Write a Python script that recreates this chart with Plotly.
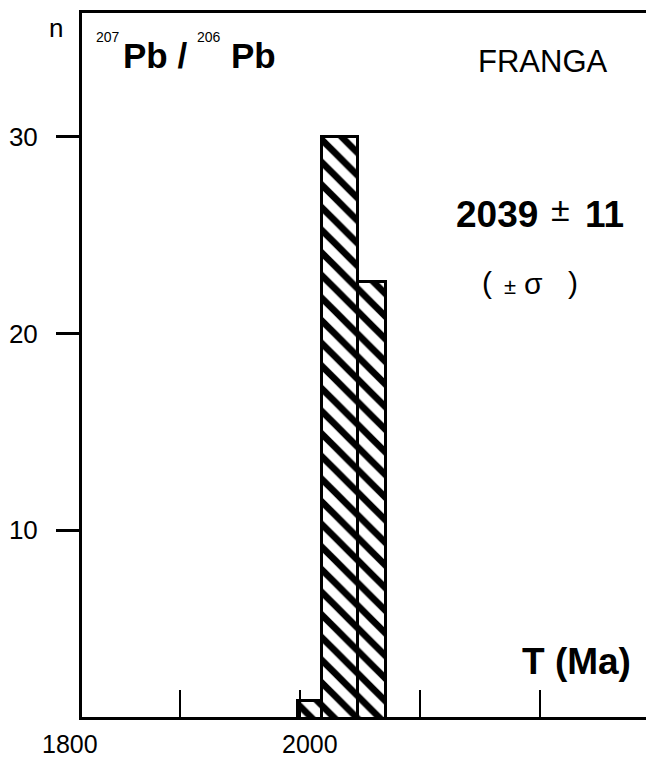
import plotly.graph_objects as go

# histogram of 207Pb/206Pb ages, FRANGA
bin_edges = [1998, 2018, 2048, 2072]
counts = [1.3, 30, 22.6]

x_ticks = [1900, 2000, 2100, 2200]
x_labels = [1800, 2000]
y_ticks = [10, 20, 30]

FONT = "Liberation Sans, Arial, sans-serif"

W, H = 654, 757
OFF = 8                      # page body margin, the figure sits at (8, 8)
ML, MT, MB = 82 - OFF, 13 - OFF, H - (717 - OFF)
PW, PH = W - ML, H - MT - MB
X_RANGE = [1818.3, 1818.3 + PW / 1.2]
Y_RANGE = [0.5, 36.3]

centers = [(a + b) / 2 for a, b in zip(bin_edges[:-1], bin_edges[1:])]
widths = [b - a for a, b in zip(bin_edges[:-1], bin_edges[1:])]

fig = go.Figure()
fig.add_trace(go.Bar(
    x=centers, y=counts, width=widths,
    marker=dict(color="white",
                line=dict(color="black", width=3),
                pattern=dict(shape="\\", fgcolor="black", bgcolor="white",
                             fgopacity=1, size=16, solidity=0.42)),
    showlegend=False))

fig.update_xaxes(range=X_RANGE, tickvals=x_ticks, showticklabels=False,
                 ticks="inside", ticklen=27, tickwidth=2, tickcolor="black",
                 showline=True, linecolor="black", linewidth=3, mirror=True,
                 showgrid=False, zeroline=False, automargin=False)
fig.update_yaxes(range=Y_RANGE, tickvals=y_ticks,
                 ticks="outside", ticklen=23, tickwidth=3, tickcolor="black",
                 ticklabelstandoff=13,
                 tickfont=dict(family=FONT, size=26, color="black"),
                 showline=True, linecolor="black", linewidth=3,
                 showgrid=False, zeroline=False, automargin=False)

ann = []

def ptxt(x, y, s, size, bold=False, xpaper=None):
    # x, y: window pixels of the text centre
    if bold:
        s = "<b>" + s + "</b>"
    xp = (x - OFF - ML) / PW if xpaper is None else xpaper
    yp = (H - MB - (y - OFF)) / PH
    ann.append(dict(x=xp, y=yp, xref="paper", yref="paper", text=s, showarrow=False,
                    xanchor="center", yanchor="middle",
                    font=dict(family=FONT, size=size, color="black")))

# x tick labels (1800 lies left of the axis range)
for v in x_labels:
    xp = (v - X_RANGE[0]) / (X_RANGE[1] - X_RANGE[0])
    ptxt(0, 744, str(v), 25, xpaper=xp + 10 / PW)

ptxt(56, 28, "n", 26)
ptxt(108, 37, "207", 14)
ptxt(155, 55, "Pb /", 35, True)
ptxt(209, 37, "206", 14)
ptxt(253, 55, "Pb", 35, True)
ptxt(543, 62, "FRANGA", 31)
ptxt(497, 214, "2039", 37, True)
ptxt(560, 209, "±", 34)
ptxt(604, 214, "11", 37, True)
ptxt(487, 282, "(", 30)
ptxt(510, 286, "±", 22)
ptxt(533, 284, "σ", 30)
ptxt(573, 282, ")", 30)
ptxt(576, 661, "T (Ma)", 37, True)

fig.update_layout(width=W, height=H, plot_bgcolor="white", paper_bgcolor="white",
                  margin=dict(l=ML, r=0, t=MT, b=MB, autoexpand=False), bargap=0,
                  annotations=ann)
fig.write_html("out.html")
